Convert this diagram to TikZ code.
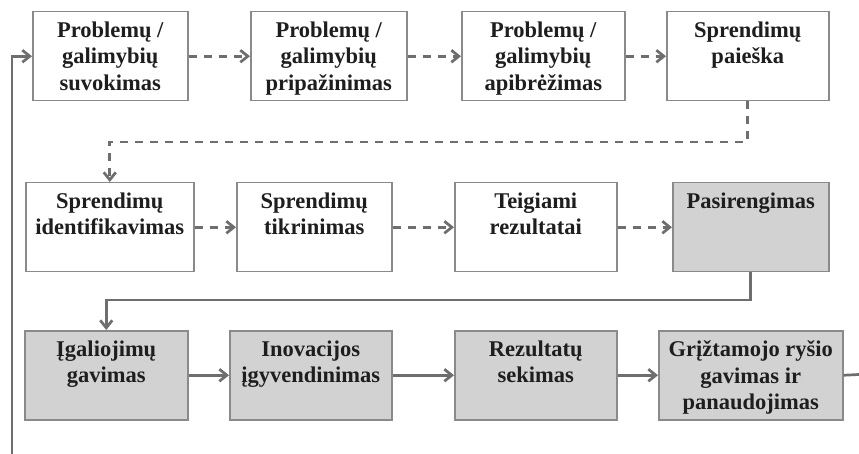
\documentclass[tikz,border=0pt]{standalone}
\usepackage{fontspec}
\setmainfont{Liberation Serif}
\usetikzlibrary{arrows.meta}
\definecolor{lncol}{HTML}{6E6E6E}
\definecolor{bdcol}{HTML}{8A8A8A}
\definecolor{fillg}{HTML}{D2D2D2}
\definecolor{txcol}{HTML}{1E1E1E}
\newcommand\bt[2]{\parbox[c][89pt][t]{#1pt}{\centering\vspace*{10pt}#2}}
\tikzset{
  box/.style={draw=bdcol, line width=1.5pt, inner sep=0pt, anchor=north west,
    fill=white, text=txcol, font=\fontsize{22.5}{26.5}\selectfont\bfseries},
  gbox/.style={box, fill=fillg},
  conn/.style={draw=lncol, line width=2.7pt, -{Straight Barb[length=7.5pt,width=12pt]}},
  dconn/.style={conn, dash pattern=on 8pt off 7pt},
  plain/.style={draw=lncol, line width=2.7pt}
}
\begin{document}
\begin{tikzpicture}[x=1pt,y=-1pt]
\useasboundingbox (0,0) rectangle (859,454);
% row 1
\node[box] (b1) at (32,11) {\bt{155}{Problemų /\\galimybių\\suvokimas}};
\node[box] (b2) at (250,11) {\bt{156}{Problemų /\\galimybių\\pripažinimas}};
\node[box] (b3) at (461,11) {\bt{163}{Problemų /\\galimybių\\apibrėžimas}};
\node[box] (b4) at (666,11) {\bt{162}{Sprendimų\\paieška}};
% row 2
\node[box] (b5) at (25,182) {\bt{168}{Sprendimų\\identifikavimas}};
\node[box] (b6) at (236,182) {\bt{155}{Sprendimų\\tikrinimas}};
\node[box] (b7) at (454,182) {\bt{162}{Teigiami\\rezultatai}};
\node[gbox] (b8) at (672,182) {\bt{156}{Pasirengimas}};
% row 3
\node[gbox] (b9) at (24,330) {\bt{163}{Įgaliojimų\\gavimas}};
\node[gbox] (b10) at (229,330) {\bt{162}{Inovacijos\\įgyvendinimas}};
\node[gbox] (b11) at (454,330) {\bt{162}{Rezultatų\\sekimas}};
\node[gbox] (b12) at (658,330) {\bt{184}{Grįžtamojo ryšio\\gavimas ir\\panaudojimas}};
% connectors
\draw[dconn] (b1.east) -- (b2.west);
\draw[dconn] (b2.east) -- (b3.west);
\draw[dconn] (b3.east) -- (b4.west);
\draw[dconn] (b4.south) -- (b4.south |- 0,142) -| (b5.north);
\draw[dconn] (b5.east) -- (b6.west);
\draw[dconn] (b6.east) -- (b7.west);
\draw[dconn] (b7.east) -- (b8.west);
\draw[conn] (b8.south) -- (b8.south |- 0,300) -| (b9.north);
\draw[conn] (b9.east) -- (b10.west);
\draw[conn] (b10.east) -- (b11.west);
\draw[conn] (b11.east) -- (b12.west);
\coordinate (fbR) at (859,374.5);
\coordinate (fbB) at (12,454);
\draw[plain] (b12.east) -- (fbR);
\draw[conn] (fbB) |- (b1.west);
\end{tikzpicture}
\end{document}
